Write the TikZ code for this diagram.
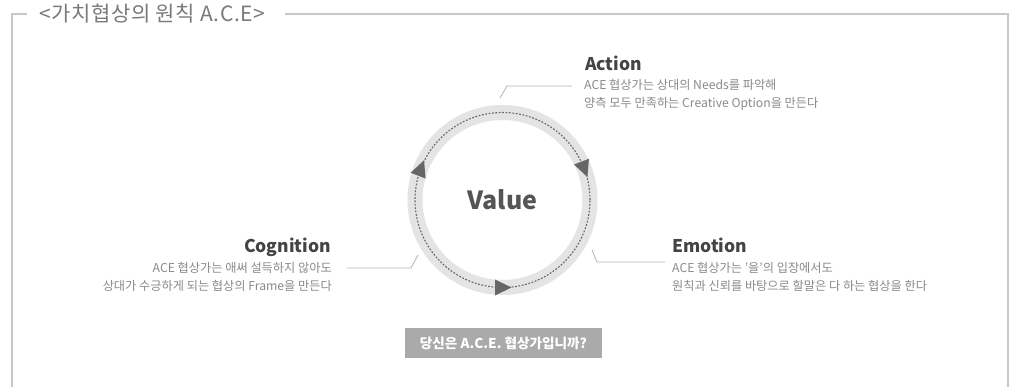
\documentclass[tikz,border=0pt]{standalone}
\usepackage{fontspec}
\setmainfont{Noto Sans CJK KR}
\usetikzlibrary{calc}
\definecolor{framegray}{HTML}{C8C8C8}
\definecolor{titlegray}{HTML}{7A7A7A}
\definecolor{conngray}{HTML}{B4B4B4}
\definecolor{headgray}{HTML}{444444}
\definecolor{bodygray}{HTML}{8A8A8A}
\definecolor{ringgray}{HTML}{E4E4E4}
\definecolor{arrowgray}{HTML}{666666}
\definecolor{valuegray}{HTML}{555555}
\definecolor{boxgray}{HTML}{AAAAAA}
\begin{document}
\begin{tikzpicture}[x=1pt,y=1pt,
  frameline/.style={draw=framegray, line width=2pt},
  conn/.style={draw=conngray, line width=0.8pt},
  head/.style={font=\fontsize{17.5}{19}\selectfont\bfseries, text=headgray, inner sep=0pt},
  body/.style={font=\fontsize{12.2}{14}\selectfont, text=bodygray, inner sep=0pt},
  tri/.style={fill=arrowgray}]
\useasboundingbox (0,0) rectangle (1015,387);
\fill[white] (0,0) rectangle (1015,387);

% frame and title
\node[anchor=west, inner sep=0pt, font=\fontsize{21}{23}\selectfont\addfontfeatures{LetterSpace=3}, text=titlegray] (title) at (39,373) {<가치협상의 원칙 A.C.E>};
\coordinate (fBL) at (12,0);
\coordinate (fTL) at (12,373);
\coordinate (fTLe) at (27,373);
\coordinate (fTRs) at (285,373);
\coordinate (fTR) at (1008,373);
\coordinate (fBR) at (1008,0);
\draw[frameline] (fBL) -- (fTL) -- (fTLe);
\draw[frameline] (fTRs) -- (fTR) -- (fBR);

% ring
\coordinate (c) at (502.5,187);
\draw[ringgray, line width=15pt] (c) circle[radius=87.5];
\draw[arrowgray, line width=1.1pt, dash pattern=on 1.8pt off 1.6pt] (c) circle[radius=87.5];
\node[font=\fontsize{25}{28}\selectfont\bfseries, text=valuegray] (value) at (c) {Value};
\begin{scope}[shift={(c)}]
  \fill[tri, shift={(159:87.5)}, rotate=69] (9,0) -- (-7.5,8) -- (-7.5,-8) -- cycle;
  \fill[tri, shift={(21:87.5)}, rotate=-69] (9,0) -- (-7.5,8) -- (-7.5,-8) -- cycle;
  \fill[tri, shift={(-90:87.5)}, rotate=0] (9,0) -- (-7.5,8) -- (-7.5,-8) -- cycle;
\end{scope}

% Action
\node[head, anchor=base west] (acth) at (585,316) {Action};
\node[body, anchor=base west] (act1) at (584,297) {ACE 협상가는 상대의 Needs를 파악해};
\node[body, anchor=base west] (act2) at (584,279) {양측 모두 만족하는 Creative Option을 만든다};
\coordinate (aR) at (500,289);
\coordinate (aK) at (507,301);
\coordinate (aE) at (572,301);
\draw[conn] (aR) -- (aK) -- (aE);

% Cognition
\node[head, anchor=base east] (cogh) at (331,134) {Cognition};
\node[body, anchor=base east] (cog1) at (332,114.5) {ACE 협상가는 애써 설득하지 않아도};
\node[body, anchor=base east] (cog2) at (332,96.5) {상대가 수긍하게 되는 협상의 Frame을 만든다};
\coordinate (cE) at (347,119);
\coordinate (cK) at (411,119);
\coordinate (cR) at (418,132);
\draw[conn] (cE) -- (cK) -- (cR);

% Emotion
\node[head, anchor=base west] (emoh) at (672,134) {Emotion};
\node[body, anchor=base west] (emo1) at (672,114.5) {ACE 협상가는 '을'의 입장에서도};
\node[body, anchor=base west] (emo2) at (672,96.5) {원칙과 신뢰를 바탕으로 할말은 다 하는 협상을 한다};
\coordinate (eR) at (592,137);
\coordinate (eK) at (597,125);
\coordinate (eE) at (665,125);
\draw[conn] (eR) -- (eK) -- (eE);

% question box
\node[fill=boxgray, minimum width=197pt, minimum height=30pt, inner sep=0pt,
  font=\fontsize{13.6}{15}\selectfont\bfseries, text=white] (ask) at (503.5,44) {당신은 A.C.E. 협상가입니까?};
\end{tikzpicture}
\end{document}
